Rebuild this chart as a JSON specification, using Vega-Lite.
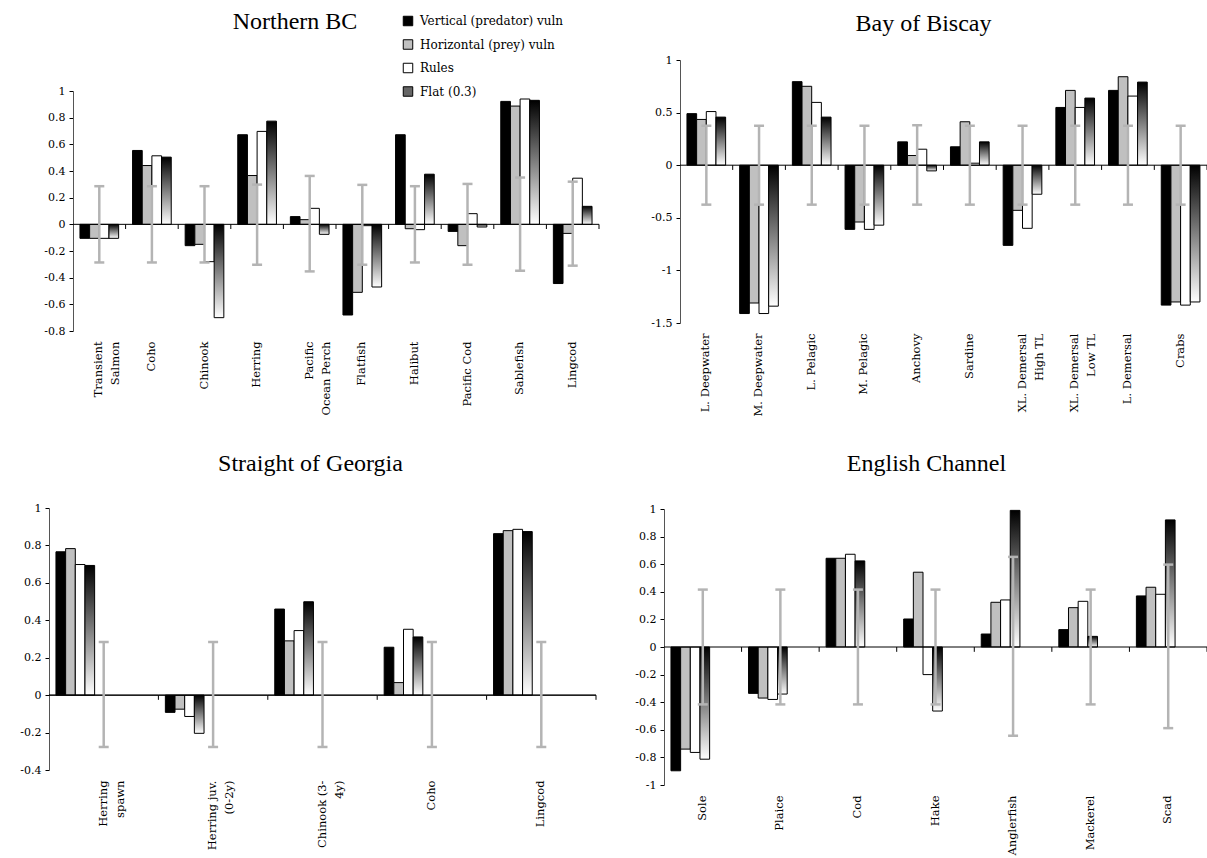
{
  "$schema": "https://vega.github.io/schema/vega-lite/v6.json",
  "padding": {"left": 10, "top": 10, "right": 0, "bottom": 0},
  "background": "white",
  "datasets": {
    "bars": [
      {"p":"Northern BC","c":"Transient|Salmon","s":"Vertical (predator) vuln","v":-0.105},
      {"p":"Northern BC","c":"Transient|Salmon","s":"Horizontal (prey) vuln","v":-0.105},
      {"p":"Northern BC","c":"Transient|Salmon","s":"Rules","v":-0.105},
      {"p":"Northern BC","c":"Transient|Salmon","s":"Flat (0.3)","v":-0.105},
      {"p":"Northern BC","c":"Coho","s":"Vertical (predator) vuln","v":0.554},
      {"p":"Northern BC","c":"Coho","s":"Horizontal (prey) vuln","v":0.441},
      {"p":"Northern BC","c":"Coho","s":"Rules","v":0.514},
      {"p":"Northern BC","c":"Coho","s":"Flat (0.3)","v":0.504},
      {"p":"Northern BC","c":"Chinook","s":"Vertical (predator) vuln","v":-0.16},
      {"p":"Northern BC","c":"Chinook","s":"Horizontal (prey) vuln","v":-0.15},
      {"p":"Northern BC","c":"Chinook","s":"Rules","v":-0.28},
      {"p":"Northern BC","c":"Chinook","s":"Flat (0.3)","v":-0.7},
      {"p":"Northern BC","c":"Herring","s":"Vertical (predator) vuln","v":0.672},
      {"p":"Northern BC","c":"Herring","s":"Horizontal (prey) vuln","v":0.366},
      {"p":"Northern BC","c":"Herring","s":"Rules","v":0.697},
      {"p":"Northern BC","c":"Herring","s":"Flat (0.3)","v":0.774},
      {"p":"Northern BC","c":"Pacific|Ocean Perch","s":"Vertical (predator) vuln","v":0.058},
      {"p":"Northern BC","c":"Pacific|Ocean Perch","s":"Horizontal (prey) vuln","v":0.035},
      {"p":"Northern BC","c":"Pacific|Ocean Perch","s":"Rules","v":0.12},
      {"p":"Northern BC","c":"Pacific|Ocean Perch","s":"Flat (0.3)","v":-0.075},
      {"p":"Northern BC","c":"Flatfish","s":"Vertical (predator) vuln","v":-0.68},
      {"p":"Northern BC","c":"Flatfish","s":"Horizontal (prey) vuln","v":-0.51},
      {"p":"Northern BC","c":"Flatfish","s":"Rules","v":-0.01},
      {"p":"Northern BC","c":"Flatfish","s":"Flat (0.3)","v":-0.47},
      {"p":"Northern BC","c":"Halibut","s":"Vertical (predator) vuln","v":0.672},
      {"p":"Northern BC","c":"Halibut","s":"Horizontal (prey) vuln","v":-0.033},
      {"p":"Northern BC","c":"Halibut","s":"Rules","v":-0.04},
      {"p":"Northern BC","c":"Halibut","s":"Flat (0.3)","v":0.376},
      {"p":"Northern BC","c":"Pacific Cod","s":"Vertical (predator) vuln","v":-0.053},
      {"p":"Northern BC","c":"Pacific Cod","s":"Horizontal (prey) vuln","v":-0.16},
      {"p":"Northern BC","c":"Pacific Cod","s":"Rules","v":0.08},
      {"p":"Northern BC","c":"Pacific Cod","s":"Flat (0.3)","v":-0.02},
      {"p":"Northern BC","c":"Sablefish","s":"Vertical (predator) vuln","v":0.922},
      {"p":"Northern BC","c":"Sablefish","s":"Horizontal (prey) vuln","v":0.887},
      {"p":"Northern BC","c":"Sablefish","s":"Rules","v":0.94},
      {"p":"Northern BC","c":"Sablefish","s":"Flat (0.3)","v":0.93},
      {"p":"Northern BC","c":"Lingcod","s":"Vertical (predator) vuln","v":-0.444},
      {"p":"Northern BC","c":"Lingcod","s":"Horizontal (prey) vuln","v":-0.068},
      {"p":"Northern BC","c":"Lingcod","s":"Rules","v":0.346},
      {"p":"Northern BC","c":"Lingcod","s":"Flat (0.3)","v":0.135},

      {"p":"Bay of Biscay","c":"L. Deepwater","s":"Vertical (predator) vuln","v":0.49},
      {"p":"Bay of Biscay","c":"L. Deepwater","s":"Horizontal (prey) vuln","v":0.435},
      {"p":"Bay of Biscay","c":"L. Deepwater","s":"Rules","v":0.51},
      {"p":"Bay of Biscay","c":"L. Deepwater","s":"Flat (0.3)","v":0.457},
      {"p":"Bay of Biscay","c":"M. Deepwater","s":"Vertical (predator) vuln","v":-1.41},
      {"p":"Bay of Biscay","c":"M. Deepwater","s":"Horizontal (prey) vuln","v":-1.31},
      {"p":"Bay of Biscay","c":"M. Deepwater","s":"Rules","v":-1.41},
      {"p":"Bay of Biscay","c":"M. Deepwater","s":"Flat (0.3)","v":-1.34},
      {"p":"Bay of Biscay","c":"L. Pelagic","s":"Vertical (predator) vuln","v":0.794},
      {"p":"Bay of Biscay","c":"L. Pelagic","s":"Horizontal (prey) vuln","v":0.75},
      {"p":"Bay of Biscay","c":"L. Pelagic","s":"Rules","v":0.597},
      {"p":"Bay of Biscay","c":"L. Pelagic","s":"Flat (0.3)","v":0.457},
      {"p":"Bay of Biscay","c":"M. Pelagic","s":"Vertical (predator) vuln","v":-0.61},
      {"p":"Bay of Biscay","c":"M. Pelagic","s":"Horizontal (prey) vuln","v":-0.54},
      {"p":"Bay of Biscay","c":"M. Pelagic","s":"Rules","v":-0.61},
      {"p":"Bay of Biscay","c":"M. Pelagic","s":"Flat (0.3)","v":-0.57},
      {"p":"Bay of Biscay","c":"Anchovy","s":"Vertical (predator) vuln","v":0.222},
      {"p":"Bay of Biscay","c":"Anchovy","s":"Horizontal (prey) vuln","v":0.092},
      {"p":"Bay of Biscay","c":"Anchovy","s":"Rules","v":0.152},
      {"p":"Bay of Biscay","c":"Anchovy","s":"Flat (0.3)","v":-0.054},
      {"p":"Bay of Biscay","c":"Sardine","s":"Vertical (predator) vuln","v":0.175},
      {"p":"Bay of Biscay","c":"Sardine","s":"Horizontal (prey) vuln","v":0.413},
      {"p":"Bay of Biscay","c":"Sardine","s":"Rules","v":0.019},
      {"p":"Bay of Biscay","c":"Sardine","s":"Flat (0.3)","v":0.222},
      {"p":"Bay of Biscay","c":"XL. Demersal|High TL","s":"Vertical (predator) vuln","v":-0.762},
      {"p":"Bay of Biscay","c":"XL. Demersal|High TL","s":"Horizontal (prey) vuln","v":-0.429},
      {"p":"Bay of Biscay","c":"XL. Demersal|High TL","s":"Rules","v":-0.6},
      {"p":"Bay of Biscay","c":"XL. Demersal|High TL","s":"Flat (0.3)","v":-0.276},
      {"p":"Bay of Biscay","c":"XL. Demersal|Low TL","s":"Vertical (predator) vuln","v":0.549},
      {"p":"Bay of Biscay","c":"XL. Demersal|Low TL","s":"Horizontal (prey) vuln","v":0.711},
      {"p":"Bay of Biscay","c":"XL. Demersal|Low TL","s":"Rules","v":0.549},
      {"p":"Bay of Biscay","c":"XL. Demersal|Low TL","s":"Flat (0.3)","v":0.638},
      {"p":"Bay of Biscay","c":"L. Demersal","s":"Vertical (predator) vuln","v":0.711},
      {"p":"Bay of Biscay","c":"L. Demersal","s":"Horizontal (prey) vuln","v":0.841},
      {"p":"Bay of Biscay","c":"L. Demersal","s":"Rules","v":0.657},
      {"p":"Bay of Biscay","c":"L. Demersal","s":"Flat (0.3)","v":0.79},
      {"p":"Bay of Biscay","c":"Crabs","s":"Vertical (predator) vuln","v":-1.33},
      {"p":"Bay of Biscay","c":"Crabs","s":"Horizontal (prey) vuln","v":-1.3},
      {"p":"Bay of Biscay","c":"Crabs","s":"Rules","v":-1.33},
      {"p":"Bay of Biscay","c":"Crabs","s":"Flat (0.3)","v":-1.3},

      {"p":"Straight of Georgia","c":"Herring|spawn","s":"Vertical (predator) vuln","v":0.766},
      {"p":"Straight of Georgia","c":"Herring|spawn","s":"Horizontal (prey) vuln","v":0.783},
      {"p":"Straight of Georgia","c":"Herring|spawn","s":"Rules","v":0.698},
      {"p":"Straight of Georgia","c":"Herring|spawn","s":"Flat (0.3)","v":0.693},
      {"p":"Straight of Georgia","c":"Herring juv.|(0-2y)","s":"Vertical (predator) vuln","v":-0.092},
      {"p":"Straight of Georgia","c":"Herring juv.|(0-2y)","s":"Horizontal (prey) vuln","v":-0.075},
      {"p":"Straight of Georgia","c":"Herring juv.|(0-2y)","s":"Rules","v":-0.114},
      {"p":"Straight of Georgia","c":"Herring juv.|(0-2y)","s":"Flat (0.3)","v":-0.204},
      {"p":"Straight of Georgia","c":"Chinook (3-|4y)","s":"Vertical (predator) vuln","v":0.46},
      {"p":"Straight of Georgia","c":"Chinook (3-|4y)","s":"Horizontal (prey) vuln","v":0.29},
      {"p":"Straight of Georgia","c":"Chinook (3-|4y)","s":"Rules","v":0.345},
      {"p":"Straight of Georgia","c":"Chinook (3-|4y)","s":"Flat (0.3)","v":0.499},
      {"p":"Straight of Georgia","c":"Coho","s":"Vertical (predator) vuln","v":0.256},
      {"p":"Straight of Georgia","c":"Coho","s":"Horizontal (prey) vuln","v":0.067},
      {"p":"Straight of Georgia","c":"Coho","s":"Rules","v":0.352},
      {"p":"Straight of Georgia","c":"Coho","s":"Flat (0.3)","v":0.311},
      {"p":"Straight of Georgia","c":"Lingcod","s":"Vertical (predator) vuln","v":0.863},
      {"p":"Straight of Georgia","c":"Lingcod","s":"Horizontal (prey) vuln","v":0.879},
      {"p":"Straight of Georgia","c":"Lingcod","s":"Rules","v":0.886},
      {"p":"Straight of Georgia","c":"Lingcod","s":"Flat (0.3)","v":0.874},

      {"p":"English Channel","c":"Sole","s":"Vertical (predator) vuln","v":-0.897},
      {"p":"English Channel","c":"Sole","s":"Horizontal (prey) vuln","v":-0.74},
      {"p":"English Channel","c":"Sole","s":"Rules","v":-0.764},
      {"p":"English Channel","c":"Sole","s":"Flat (0.3)","v":-0.813},
      {"p":"English Channel","c":"Plaice","s":"Vertical (predator) vuln","v":-0.336},
      {"p":"English Channel","c":"Plaice","s":"Horizontal (prey) vuln","v":-0.37},
      {"p":"English Channel","c":"Plaice","s":"Rules","v":-0.38},
      {"p":"English Channel","c":"Plaice","s":"Flat (0.3)","v":-0.341},
      {"p":"English Channel","c":"Cod","s":"Vertical (predator) vuln","v":0.643},
      {"p":"English Channel","c":"Cod","s":"Horizontal (prey) vuln","v":0.643},
      {"p":"English Channel","c":"Cod","s":"Rules","v":0.672},
      {"p":"English Channel","c":"Cod","s":"Flat (0.3)","v":0.624},
      {"p":"English Channel","c":"Hake","s":"Vertical (predator) vuln","v":0.203},
      {"p":"English Channel","c":"Hake","s":"Horizontal (prey) vuln","v":0.542},
      {"p":"English Channel","c":"Hake","s":"Rules","v":-0.2},
      {"p":"English Channel","c":"Hake","s":"Flat (0.3)","v":-0.464},
      {"p":"English Channel","c":"Anglerfish","s":"Vertical (predator) vuln","v":0.094},
      {"p":"English Channel","c":"Anglerfish","s":"Horizontal (prey) vuln","v":0.324},
      {"p":"English Channel","c":"Anglerfish","s":"Rules","v":0.341},
      {"p":"English Channel","c":"Anglerfish","s":"Flat (0.3)","v":0.99},
      {"p":"English Channel","c":"Mackerel","s":"Vertical (predator) vuln","v":0.126},
      {"p":"English Channel","c":"Mackerel","s":"Horizontal (prey) vuln","v":0.285},
      {"p":"English Channel","c":"Mackerel","s":"Rules","v":0.331},
      {"p":"English Channel","c":"Mackerel","s":"Flat (0.3)","v":0.077},
      {"p":"English Channel","c":"Scad","s":"Vertical (predator) vuln","v":0.37},
      {"p":"English Channel","c":"Scad","s":"Horizontal (prey) vuln","v":0.433},
      {"p":"English Channel","c":"Scad","s":"Rules","v":0.382},
      {"p":"English Channel","c":"Scad","s":"Flat (0.3)","v":0.921}
    ],
    "errs": [
      {"p":"Northern BC","c":"Transient|Salmon","lo":-0.286,"hi":0.286},
      {"p":"Northern BC","c":"Coho","lo":-0.286,"hi":0.286},
      {"p":"Northern BC","c":"Chinook","lo":-0.286,"hi":0.286},
      {"p":"Northern BC","c":"Herring","lo":-0.303,"hi":0.298},
      {"p":"Northern BC","c":"Pacific|Ocean Perch","lo":-0.353,"hi":0.363},
      {"p":"Northern BC","c":"Flatfish","lo":-0.303,"hi":0.296},
      {"p":"Northern BC","c":"Halibut","lo":-0.286,"hi":0.286},
      {"p":"Northern BC","c":"Pacific Cod","lo":-0.303,"hi":0.303},
      {"p":"Northern BC","c":"Sablefish","lo":-0.348,"hi":0.351},
      {"p":"Northern BC","c":"Lingcod","lo":-0.31,"hi":0.32},
      {"p":"Bay of Biscay","c":"L. Deepwater","lo":-0.375,"hi":0.375},
      {"p":"Bay of Biscay","c":"M. Deepwater","lo":-0.375,"hi":0.375},
      {"p":"Bay of Biscay","c":"L. Pelagic","lo":-0.375,"hi":0.375},
      {"p":"Bay of Biscay","c":"M. Pelagic","lo":-0.375,"hi":0.375},
      {"p":"Bay of Biscay","c":"Anchovy","lo":-0.375,"hi":0.38},
      {"p":"Bay of Biscay","c":"Sardine","lo":-0.375,"hi":0.375},
      {"p":"Bay of Biscay","c":"XL. Demersal|High TL","lo":-0.375,"hi":0.375},
      {"p":"Bay of Biscay","c":"XL. Demersal|Low TL","lo":-0.375,"hi":0.375},
      {"p":"Bay of Biscay","c":"L. Demersal","lo":-0.375,"hi":0.375},
      {"p":"Bay of Biscay","c":"Crabs","lo":-0.375,"hi":0.375},
      {"p":"Straight of Georgia","c":"Herring|spawn","lo":-0.277,"hi":0.284},
      {"p":"Straight of Georgia","c":"Herring juv.|(0-2y)","lo":-0.277,"hi":0.284},
      {"p":"Straight of Georgia","c":"Chinook (3-|4y)","lo":-0.277,"hi":0.284},
      {"p":"Straight of Georgia","c":"Coho","lo":-0.277,"hi":0.284},
      {"p":"Straight of Georgia","c":"Lingcod","lo":-0.277,"hi":0.284},
      {"p":"English Channel","c":"Sole","lo":-0.416,"hi":0.416},
      {"p":"English Channel","c":"Plaice","lo":-0.416,"hi":0.416},
      {"p":"English Channel","c":"Cod","lo":-0.416,"hi":0.416},
      {"p":"English Channel","c":"Hake","lo":-0.416,"hi":0.416},
      {"p":"English Channel","c":"Anglerfish","lo":-0.643,"hi":0.653},
      {"p":"English Channel","c":"Mackerel","lo":-0.416,"hi":0.416},
      {"p":"English Channel","c":"Scad","lo":-0.588,"hi":0.597}
    ]
  },
  "config": {
    "view": {"stroke": null},
    "font": "DejaVu Serif",
    "title": {"font": "Liberation Serif", "fontSize": 24, "fontWeight": "normal", "color": "#000", "anchor": "middle", "frame": "group"},
    "axis": {"labelFont": "DejaVu Serif", "labelColor": "#000", "grid": false, "title": null},
    "axisX": {"domain": false, "ticks": false, "labelAngle": -90, "labelFontSize": 11.5, "labelPadding": 10, "labelLineHeight": 17, "labelExpr": "split(datum.value, '|')", "minExtent": 85, "maxExtent": 85},
    "axisY": {"domain": true, "domainColor": "#555", "domainWidth": 1, "ticks": true, "tickSize": 4, "tickColor": "#000", "tickCount": 20, "labelFontSize": 11, "labelPadding": 4, "labelOverlap": false, "labelFlush": false, "labelExpr": "replace(format(datum.value, '~g'), '\u2212', '-')"},
    "legend": {"padding": 0}
  },
  "columns": 2,
  "align": "none",
  "spacing": {"row": 36, "column": 11},
  "concat": [
    {
      "width": 526, "height": 271,
      "title": {"text": "Northern BC", "offset": 26, "dx": -41},
      "layer": [
        {
          "data": {"name": "bars"},
          "transform": [{"filter": "datum.p === 'Northern BC' && datum.s !== 'Flat (0.3)'"}],
          "mark": {"type": "bar", "stroke": "#000", "strokeWidth": 1},
          "encoding": {
            "x": {"field": "c", "type": "nominal", "sort": null, "scale": {"paddingInner": 0, "paddingOuter": 0}},
            "xOffset": {"field": "s", "scale": {"domain": ["Vertical (predator) vuln", "Horizontal (prey) vuln", "Rules", "Flat (0.3)"], "paddingInner": 0, "paddingOuter": 0.72}},
            "y": {"field": "v", "type": "quantitative", "scale": {"domain": [-0.8, 1], "nice": false, "range": [271, 31]}, "axis": {"values": [-0.8, -0.6, -0.4, -0.2, 0, 0.2, 0.4, 0.6, 0.8, 1], "tickCount": 20, "minExtent": 63, "labelOverlap": false}},
            "color": {
              "field": "s", "type": "nominal",
              "scale": {"domain": ["Vertical (predator) vuln", "Horizontal (prey) vuln", "Rules", "Flat (0.3)"], "range": ["#000000", "#c0c0c0", "#ffffff", "#666666"]},
              "legend": {
                "title": null, "orient": "none", "legendX": 329, "legendY": -45, "direction": "vertical",
                "symbolType": "square", "symbolSize": 90, "symbolStrokeColor": "#000", "symbolStrokeWidth": 1,
                "labelFont": "DejaVu Serif", "labelFontSize": 12, "labelColor": "#000", "labelOffset": 6, "rowPadding": 9.5, "padding": 0,
                "encoding": {
                  "symbols": {
                    "stroke": {"value": "#000"},
                    "strokeWidth": {"value": 1},
                    "fill": {
                      "condition": [
                        {"test": "datum.value === 'Vertical (predator) vuln'", "value": "#000000"},
                        {"test": "datum.value === 'Horizontal (prey) vuln'", "value": "#c0c0c0"},
                        {"test": "datum.value === 'Rules'", "value": "#ffffff"}
                      ],
                      "value": {"gradient": "linear", "x1": 0, "y1": 0, "x2": 0, "y2": 1, "stops": [{"offset": 0, "color": "#000000"}, {"offset": 1, "color": "#ffffff"}]}
                    }
                  }
                }
              }
            }
          }
        },
        {
          "data": {"name": "bars"},
          "transform": [{"filter": "datum.p === 'Northern BC' && datum.s === 'Flat (0.3)'"}],
          "mark": {"type": "bar", "stroke": "#000", "strokeWidth": 1, "fill": {"gradient": "linear", "x1": 0, "y1": 0, "x2": 0, "y2": 1, "stops": [{"offset": 0, "color": "#000000"}, {"offset": 1, "color": "#ffffff"}]}},
          "encoding": {
            "x": {"field": "c", "type": "nominal", "sort": null},
            "xOffset": {"field": "s"},
            "y": {"field": "v", "type": "quantitative"}
          }
        },
        {
          "data": {"values": [{}]},
          "mark": {"type": "rule", "color": "#000", "strokeWidth": 1},
          "encoding": {"y": {"datum": 0}}
        },
        {
          "data": {"name": "bars"},
          "transform": [{"filter": "datum.p === 'Northern BC' && datum.s === 'Rules'"}],
          "mark": {"type": "rule", "color": "#000", "strokeWidth": 1},
          "encoding": {
            "x": {"field": "c", "type": "nominal", "sort": null, "bandPosition": 1},
            "y": {"datum": 0},
            "y2": {"datum": -0.035}
          }
        },
        {
          "data": {"name": "errs"},
          "transform": [{"filter": "datum.p === 'Northern BC'"}],
          "mark": {"type": "rule", "color": "#b4b4b4", "strokeWidth": 2.5},
          "encoding": {
            "x": {"field": "c", "type": "nominal", "sort": null},
            "y": {"field": "lo", "type": "quantitative"},
            "y2": {"field": "hi"}
          }
        },
        {
          "data": {"name": "errs"},
          "transform": [{"filter": "datum.p === 'Northern BC'"}],
          "mark": {"type": "tick", "color": "#b4b4b4", "thickness": 2.5, "size": 10, "opacity": 1},
          "encoding": {
            "x": {"field": "c", "type": "nominal", "sort": null},
            "y": {"field": "lo", "type": "quantitative"}
          }
        },
        {
          "data": {"name": "errs"},
          "transform": [{"filter": "datum.p === 'Northern BC'"}],
          "mark": {"type": "tick", "color": "#b4b4b4", "thickness": 2.5, "size": 10, "opacity": 1},
          "encoding": {
            "x": {"field": "c", "type": "nominal", "sort": null},
            "y": {"field": "hi", "type": "quantitative"}
          }
        }
      ]
    },
    {
      "width": 527, "height": 263,
      "title": {"text": "Bay of Biscay", "offset": 18, "dx": -20},
      "layer": [
        {
          "data": {"name": "bars"},
          "transform": [{"filter": "datum.p === 'Bay of Biscay' && datum.s !== 'Flat (0.3)'"}],
          "mark": {"type": "bar", "stroke": "#000", "strokeWidth": 1},
          "encoding": {
            "x": {"field": "c", "type": "nominal", "sort": null, "scale": {"paddingInner": 0, "paddingOuter": 0}},
            "xOffset": {"field": "s", "scale": {"domain": ["Vertical (predator) vuln", "Horizontal (prey) vuln", "Rules", "Flat (0.3)"], "paddingInner": 0, "paddingOuter": 0.72}},
            "y": {"field": "v", "type": "quantitative", "scale": {"domain": [-1.5, 1], "nice": false}, "axis": {"values": [-1.5, -1, -0.5, 0, 0.5, 1], "tickCount": 20, "minExtent": 49, "labelOverlap": false}},
            "color": {"field": "s", "type": "nominal", "legend": null}
          }
        },
        {
          "data": {"name": "bars"},
          "transform": [{"filter": "datum.p === 'Bay of Biscay' && datum.s === 'Flat (0.3)'"}],
          "mark": {"type": "bar", "stroke": "#000", "strokeWidth": 1, "fill": {"gradient": "linear", "x1": 0, "y1": 0, "x2": 0, "y2": 1, "stops": [{"offset": 0, "color": "#000000"}, {"offset": 1, "color": "#ffffff"}]}},
          "encoding": {
            "x": {"field": "c", "type": "nominal", "sort": null},
            "xOffset": {"field": "s"},
            "y": {"field": "v", "type": "quantitative"}
          }
        },
        {
          "data": {"values": [{}]},
          "mark": {"type": "rule", "color": "#000", "strokeWidth": 1},
          "encoding": {"y": {"datum": 0}}
        },
        {
          "data": {"name": "bars"},
          "transform": [{"filter": "datum.p === 'Bay of Biscay' && datum.s === 'Rules'"}],
          "mark": {"type": "rule", "color": "#000", "strokeWidth": 1},
          "encoding": {
            "x": {"field": "c", "type": "nominal", "sort": null, "bandPosition": 1},
            "y": {"datum": 0},
            "y2": {"datum": -0.045}
          }
        },
        {
          "data": {"name": "errs"},
          "transform": [{"filter": "datum.p === 'Bay of Biscay'"}],
          "mark": {"type": "rule", "color": "#b4b4b4", "strokeWidth": 2.5},
          "encoding": {
            "x": {"field": "c", "type": "nominal", "sort": null},
            "y": {"field": "lo", "type": "quantitative"},
            "y2": {"field": "hi"}
          }
        },
        {
          "data": {"name": "errs"},
          "transform": [{"filter": "datum.p === 'Bay of Biscay'"}],
          "mark": {"type": "tick", "color": "#b4b4b4", "thickness": 2.5, "size": 10, "opacity": 1},
          "encoding": {
            "x": {"field": "c", "type": "nominal", "sort": null},
            "y": {"field": "lo", "type": "quantitative"}
          }
        },
        {
          "data": {"name": "errs"},
          "transform": [{"filter": "datum.p === 'Bay of Biscay'"}],
          "mark": {"type": "tick", "color": "#b4b4b4", "thickness": 2.5, "size": 10, "opacity": 1},
          "encoding": {
            "x": {"field": "c", "type": "nominal", "sort": null},
            "y": {"field": "hi", "type": "quantitative"}
          }
        }
      ]
    },
    {
      "width": 523, "height": 262,
      "title": {"text": "Straight of Georgia", "offset": 26, "dx": -24},
      "layer": [
        {
          "data": {"name": "bars"},
          "transform": [{"filter": "datum.p === 'Straight of Georgia' && datum.s !== 'Flat (0.3)'"}],
          "mark": {"type": "bar", "stroke": "#000", "strokeWidth": 1},
          "encoding": {
            "x": {"field": "c", "type": "nominal", "sort": null, "scale": {"paddingInner": 0, "paddingOuter": 0, "range": [-24, 523]}},
            "xOffset": {"field": "s", "scale": {"domain": ["Vertical (predator) vuln", "Horizontal (prey) vuln", "Rules", "Flat (0.3)"], "paddingInner": 0, "paddingOuter": 0.72}},
            "y": {"field": "v", "type": "quantitative", "scale": {"domain": [-0.4, 1], "nice": false}, "axis": {"values": [-0.4, -0.2, 0, 0.2, 0.4, 0.6, 0.8, 1], "tickCount": 20, "offset": 24, "labelOverlap": false}},
            "color": {"field": "s", "type": "nominal", "legend": null}
          }
        },
        {
          "data": {"name": "bars"},
          "transform": [{"filter": "datum.p === 'Straight of Georgia' && datum.s === 'Flat (0.3)'"}],
          "mark": {"type": "bar", "stroke": "#000", "strokeWidth": 1, "fill": {"gradient": "linear", "x1": 0, "y1": 0, "x2": 0, "y2": 1, "stops": [{"offset": 0, "color": "#000000"}, {"offset": 1, "color": "#ffffff"}]}},
          "encoding": {
            "x": {"field": "c", "type": "nominal", "sort": null},
            "xOffset": {"field": "s"},
            "y": {"field": "v", "type": "quantitative"}
          }
        },
        {
          "data": {"name": "bars"},
          "transform": [{"filter": "datum.p === 'Straight of Georgia' && datum.s === 'Rules'"}],
          "mark": {"type": "bar", "fill": "#000", "fillOpacity": 0, "stroke": "#000", "strokeWidth": 1},
          "encoding": {
            "x": {"field": "c", "type": "nominal", "sort": null},
            "y": {"datum": 0},
            "y2": {"datum": 0}
          }
        },
        {
          "data": {"name": "bars"},
          "transform": [{"filter": "datum.p === 'Straight of Georgia' && datum.s === 'Rules'"}],
          "mark": {"type": "rule", "color": "#000", "strokeWidth": 1},
          "encoding": {
            "x": {"field": "c", "type": "nominal", "sort": null, "bandPosition": 1},
            "y": {"datum": 0},
            "y2": {"datum": -0.025}
          }
        },
        {
          "data": {"name": "errs"},
          "transform": [{"filter": "datum.p === 'Straight of Georgia'"}],
          "mark": {"type": "rule", "color": "#b4b4b4", "strokeWidth": 2.5},
          "encoding": {
            "x": {"field": "c", "type": "nominal", "sort": null},
            "y": {"field": "lo", "type": "quantitative"},
            "y2": {"field": "hi"}
          }
        },
        {
          "data": {"name": "errs"},
          "transform": [{"filter": "datum.p === 'Straight of Georgia'"}],
          "mark": {"type": "tick", "color": "#b4b4b4", "thickness": 2.5, "size": 10, "opacity": 1},
          "encoding": {
            "x": {"field": "c", "type": "nominal", "sort": null},
            "y": {"field": "lo", "type": "quantitative"}
          }
        },
        {
          "data": {"name": "errs"},
          "transform": [{"filter": "datum.p === 'Straight of Georgia'"}],
          "mark": {"type": "tick", "color": "#b4b4b4", "thickness": 2.5, "size": 10, "opacity": 1},
          "encoding": {
            "x": {"field": "c", "type": "nominal", "sort": null},
            "y": {"field": "hi", "type": "quantitative"}
          }
        }
      ]
    },
    {
      "width": 543, "height": 276,
      "title": {"text": "English Channel", "offset": 27, "dx": -9},
      "layer": [
        {
          "data": {"name": "bars"},
          "transform": [{"filter": "datum.p === 'English Channel' && datum.s !== 'Flat (0.3)'"}],
          "mark": {"type": "bar", "stroke": "#000", "strokeWidth": 1},
          "encoding": {
            "x": {"field": "c", "type": "nominal", "sort": null, "scale": {"paddingInner": 0, "paddingOuter": 0}},
            "xOffset": {"field": "s", "scale": {"domain": ["Vertical (predator) vuln", "Horizontal (prey) vuln", "Rules", "Flat (0.3)"], "paddingInner": 0, "paddingOuter": 0.72}},
            "y": {"field": "v", "type": "quantitative", "scale": {"domain": [-1, 1], "nice": false}, "axis": {"values": [-1, -0.8, -0.6, -0.4, -0.2, 0, 0.2, 0.4, 0.6, 0.8, 1], "tickCount": 20, "minExtent": 33, "labelOverlap": false}},
            "color": {"field": "s", "type": "nominal", "legend": null}
          }
        },
        {
          "data": {"name": "bars"},
          "transform": [{"filter": "datum.p === 'English Channel' && datum.s === 'Flat (0.3)'"}],
          "mark": {"type": "bar", "stroke": "#000", "strokeWidth": 1, "fill": {"gradient": "linear", "x1": 0, "y1": 0, "x2": 0, "y2": 1, "stops": [{"offset": 0, "color": "#000000"}, {"offset": 1, "color": "#ffffff"}]}},
          "encoding": {
            "x": {"field": "c", "type": "nominal", "sort": null},
            "xOffset": {"field": "s"},
            "y": {"field": "v", "type": "quantitative"}
          }
        },
        {
          "data": {"values": [{}]},
          "mark": {"type": "rule", "color": "#000", "strokeWidth": 1},
          "encoding": {"y": {"datum": 0}}
        },
        {
          "data": {"name": "bars"},
          "transform": [{"filter": "datum.p === 'English Channel' && datum.s === 'Rules'"}],
          "mark": {"type": "rule", "color": "#000", "strokeWidth": 1},
          "encoding": {
            "x": {"field": "c", "type": "nominal", "sort": null, "bandPosition": 1},
            "y": {"datum": 0},
            "y2": {"datum": -0.035}
          }
        },
        {
          "data": {"name": "errs"},
          "transform": [{"filter": "datum.p === 'English Channel'"}],
          "mark": {"type": "rule", "color": "#b4b4b4", "strokeWidth": 2.5},
          "encoding": {
            "x": {"field": "c", "type": "nominal", "sort": null},
            "y": {"field": "lo", "type": "quantitative"},
            "y2": {"field": "hi"}
          }
        },
        {
          "data": {"name": "errs"},
          "transform": [{"filter": "datum.p === 'English Channel'"}],
          "mark": {"type": "tick", "color": "#b4b4b4", "thickness": 2.5, "size": 10, "opacity": 1},
          "encoding": {
            "x": {"field": "c", "type": "nominal", "sort": null},
            "y": {"field": "lo", "type": "quantitative"}
          }
        },
        {
          "data": {"name": "errs"},
          "transform": [{"filter": "datum.p === 'English Channel'"}],
          "mark": {"type": "tick", "color": "#b4b4b4", "thickness": 2.5, "size": 10, "opacity": 1},
          "encoding": {
            "x": {"field": "c", "type": "nominal", "sort": null},
            "y": {"field": "hi", "type": "quantitative"}
          }
        }
      ]
    }
  ]
}
